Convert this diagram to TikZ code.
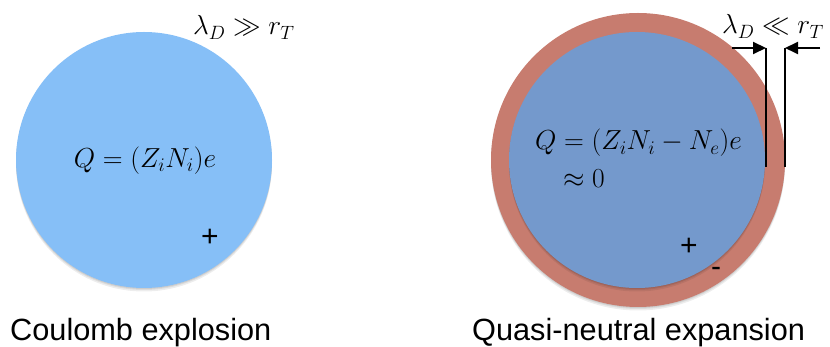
\RequirePackage{fix-cm}
\documentclass[tikz,border=0pt]{standalone}
\usepackage{fontspec}
\setsansfont{Liberation Sans}
\usetikzlibrary{arrows.meta,calc}
\definecolor{lightblue}{RGB}{134,191,247}
\definecolor{darkblue}{RGB}{116,153,204}
\definecolor{sheath}{RGB}{199,124,111}
\tikzset{
  ball/.style={circle, inner sep=0pt, minimum size=#1},
  mathlbl/.style={inner sep=0pt, font=\fontsize{27.5}{30}\selectfont},
  caption/.style={inner sep=0pt, anchor=base west, font=\sffamily\fontsize{30.7}{34}\selectfont},
  sign/.style={inner sep=0pt, font=\sffamily\fontsize{30}{32}\selectfont},
  dim/.style={line width=2pt},
  dimarrow/.style={line width=2pt, -{Triangle[length=13pt,width=12pt]}},
  shadowball/.style={fill=black, opacity=0.07}
}
\newcommand{\softshadow}[3]{%
  \fill[shadowball] ($(#1,#2)+(0,1)$) circle (#3);
  \fill[shadowball] ($(#1,#2)+(0,2)$) circle (#3);
  \fill[shadowball] ($(#1,#2)+(0,3.5)$) circle (#3);
}
\begin{document}
\begin{tikzpicture}[x=1pt,y=-1pt]
\useasboundingbox (0,0) rectangle (830,347);
% left sphere
\softshadow{144}{160}{128}
\node[ball=256pt, fill=lightblue] (left) at (144,160) {};
\node[mathlbl] (qleft) at (145,161) {$Q=(Z_iN_i)e$};
\node[mathlbl, anchor=base west] (lgg) at (193,35) {$\lambda_D \gg r_T$};
\node[sign] (plusL) at (210,238) {+};
\node[caption] (capL) at (10,341) {Coulomb explosion};
% right sphere
\softshadow{638}{160}{147}
\node[ball=294pt, fill=sheath] (outer) at (638,160) {};
\softshadow{637}{160}{128}
\node[ball=256pt, fill=darkblue] (inner) at (637,160) {};
\node[mathlbl, anchor=base west] (qright) at (535,150) {$Q=(Z_iN_i-N_e)e$};
\node[mathlbl, anchor=base west] (approx) at (563,188) {$\approx 0$};
\node[sign] (plusR) at (689,247) {+};
\node[sign] (minusR) at (716,272) {-};
\node[mathlbl, anchor=base west] (lll) at (722,34) {$\lambda_D \ll r_T$};
\node[caption] (capR) at (472,341) {Quasi-neutral expansion};
% dimension lines
\coordinate (a1) at (766,48);
\coordinate (a2) at (766,167);
\coordinate (b1) at (785,48);
\coordinate (b2) at (785,167);
\coordinate (la) at (732,48);
\coordinate (rb) at (820,48);
\draw[dim] (a1) -- (a2);
\draw[dim] (b1) -- (b2);
\draw[dimarrow] (la) -- (a1);
\draw[dimarrow] (rb) -- (b1);
\end{tikzpicture}
\end{document}
